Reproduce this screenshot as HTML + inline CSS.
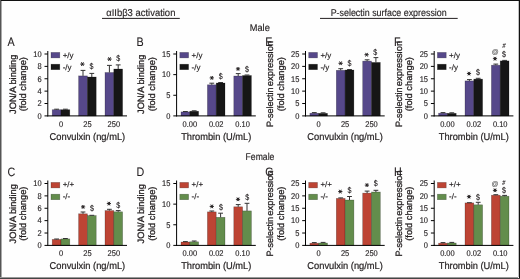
<!DOCTYPE html><html><head><meta charset="utf-8"><style>html,body{margin:0;padding:0;background:#fff;width:520px;height:279px;overflow:hidden;}svg{display:block;will-change:transform;}</style></head><body>
<svg width="520" height="279" viewBox="0 0 520 279" font-family='"Liberation Sans", sans-serif' fill="#231f20" stroke="#231f20" stroke-width="0.15" text-rendering="geometricPrecision">
<rect x="0.00" y="0.00" width="520.00" height="279.00" fill="#fefefe" stroke="none"/>
<text x="106.20" y="15.60" font-size="9.9" text-anchor="start" textLength="69.2" lengthAdjust="spacingAndGlyphs" >&#945;IIb&#946;3 activation</text>
<line x1="102.00" y1="18.40" x2="179.80" y2="18.40" stroke="#231f20" stroke-width="1"/>
<text x="330.70" y="15.50" font-size="9.9" text-anchor="start" textLength="116.0" lengthAdjust="spacingAndGlyphs" >P-selectin surface expression</text>
<line x1="320.00" y1="18.40" x2="457.70" y2="18.40" stroke="#231f20" stroke-width="1"/>
<text x="259.80" y="30.60" font-size="9.9" text-anchor="middle" textLength="20.0" lengthAdjust="spacingAndGlyphs" >Male</text>
<text x="260.00" y="159.80" font-size="9.9" text-anchor="middle" textLength="28.8" lengthAdjust="spacingAndGlyphs" >Female</text>
<g>
<text transform="translate(7.60,46.00) scale(0.88,1)" font-size="12.2" stroke-width="0.1">A</text>
<text transform="translate(15.50,84.30) rotate(-90)" font-size="9.2" text-anchor="middle" textLength="59.4" lengthAdjust="spacingAndGlyphs" stroke-width="0.3">JON/A binding</text>
<text transform="translate(25.80,84.20) rotate(-90)" font-size="9.2" text-anchor="middle" textLength="54.2" lengthAdjust="spacingAndGlyphs" stroke-width="0.3">(fold change)</text>
<text transform="translate(41.60,118.70) scale(0.9,1)" font-size="8.3" text-anchor="end" >0</text>
<text transform="translate(41.60,106.32) scale(0.9,1)" font-size="8.3" text-anchor="end" >2</text>
<text transform="translate(41.60,93.94) scale(0.9,1)" font-size="8.3" text-anchor="end" >4</text>
<text transform="translate(41.60,81.56) scale(0.9,1)" font-size="8.3" text-anchor="end" >6</text>
<text transform="translate(41.60,69.18) scale(0.9,1)" font-size="8.3" text-anchor="end" >8</text>
<text transform="translate(41.60,56.80) scale(0.9,1)" font-size="8.3" text-anchor="end" >10</text>
<rect x="51.00" y="52.40" width="8.80" height="5.50" fill="#56488a" stroke="#000" stroke-opacity="0.35" stroke-width="0.6"/>
<rect x="51.00" y="64.20" width="8.80" height="5.50" fill="#161616" stroke="#000" stroke-opacity="0.35" stroke-width="0.6"/>
<text x="62.70" y="57.80" font-size="8.0" text-anchor="start" >+/y</text>
<text x="62.70" y="69.60" font-size="8.0" text-anchor="start" >-/y</text>
<rect x="52.20" y="109.70" width="8.80" height="6.20" fill="#56488a" stroke="#000" stroke-opacity="0.35" stroke-width="0.6"/>
<rect x="61.00" y="109.70" width="8.80" height="6.20" fill="#161616" stroke="#000" stroke-opacity="0.35" stroke-width="0.6"/>
<line x1="56.60" y1="109.20" x2="56.60" y2="109.70" stroke="#333" stroke-width="1"/>
<line x1="54.20" y1="109.20" x2="59.00" y2="109.20" stroke="#333" stroke-width="1"/>
<line x1="65.40" y1="109.20" x2="65.40" y2="109.70" stroke="#333" stroke-width="1"/>
<line x1="63.00" y1="109.20" x2="67.80" y2="109.20" stroke="#333" stroke-width="1"/>
<text transform="translate(61.00,126.90) scale(0.9,1)" font-size="8.3" text-anchor="middle" >0</text>
<rect x="78.60" y="75.90" width="8.80" height="40.00" fill="#56488a" stroke="#000" stroke-opacity="0.35" stroke-width="0.6"/>
<rect x="87.40" y="77.00" width="8.80" height="38.90" fill="#161616" stroke="#000" stroke-opacity="0.35" stroke-width="0.6"/>
<line x1="83.00" y1="70.40" x2="83.00" y2="75.90" stroke="#333" stroke-width="1"/>
<line x1="80.60" y1="70.40" x2="85.40" y2="70.40" stroke="#333" stroke-width="1"/>
<line x1="91.80" y1="73.40" x2="91.80" y2="77.00" stroke="#333" stroke-width="1"/>
<line x1="89.40" y1="73.40" x2="94.20" y2="73.40" stroke="#333" stroke-width="1"/>
<text transform="translate(87.40,126.90) scale(0.9,1)" font-size="8.3" text-anchor="middle" >25</text>
<rect x="105.00" y="72.50" width="8.80" height="43.40" fill="#56488a" stroke="#000" stroke-opacity="0.35" stroke-width="0.6"/>
<rect x="113.80" y="69.00" width="8.80" height="46.90" fill="#161616" stroke="#000" stroke-opacity="0.35" stroke-width="0.6"/>
<line x1="109.40" y1="65.40" x2="109.40" y2="72.50" stroke="#333" stroke-width="1"/>
<line x1="107.00" y1="65.40" x2="111.80" y2="65.40" stroke="#333" stroke-width="1"/>
<line x1="118.20" y1="64.90" x2="118.20" y2="69.00" stroke="#333" stroke-width="1"/>
<line x1="115.80" y1="64.90" x2="120.60" y2="64.90" stroke="#333" stroke-width="1"/>
<text transform="translate(113.80,126.90) scale(0.9,1)" font-size="8.3" text-anchor="middle" >250</text>
<line x1="44.50" y1="115.90" x2="47.80" y2="115.90" stroke="#000" stroke-width="1"/>
<line x1="44.50" y1="103.52" x2="47.80" y2="103.52" stroke="#000" stroke-width="1"/>
<line x1="44.50" y1="91.14" x2="47.80" y2="91.14" stroke="#000" stroke-width="1"/>
<line x1="44.50" y1="78.76" x2="47.80" y2="78.76" stroke="#000" stroke-width="1"/>
<line x1="44.50" y1="66.38" x2="47.80" y2="66.38" stroke="#000" stroke-width="1"/>
<line x1="44.50" y1="54.00" x2="47.80" y2="54.00" stroke="#000" stroke-width="1"/>
<line x1="47.80" y1="51.00" x2="47.80" y2="116.40" stroke="#000" stroke-width="1"/>
<line x1="47.30" y1="115.90" x2="127.00" y2="115.90" stroke="#000" stroke-width="1"/>
<path d="M80.30,64.10h4.20M81.35,62.28l2.10,3.64M83.45,62.28l-2.10,3.64" stroke="#231f20" stroke-width="1.0" fill="none"/>
<text transform="translate(91.40,69.42) scale(0.85,1)" font-size="8.4" text-anchor="middle" stroke-width="0.12">$</text>
<path d="M107.40,59.10h4.20M108.45,57.28l2.10,3.64M110.55,57.28l-2.10,3.64" stroke="#231f20" stroke-width="1.0" fill="none"/>
<text transform="translate(118.30,60.92) scale(0.85,1)" font-size="8.4" text-anchor="middle" stroke-width="0.12">$</text>
<text x="87.40" y="139.60" font-size="9.9" text-anchor="middle" textLength="75.6" lengthAdjust="spacingAndGlyphs" stroke-width="0.22">Convulxin (ng/mL)</text>
</g>
<g>
<text transform="translate(136.40,46.00) scale(0.88,1)" font-size="12.2" stroke-width="0.1">B</text>
<text transform="translate(144.30,84.30) rotate(-90)" font-size="9.2" text-anchor="middle" textLength="59.4" lengthAdjust="spacingAndGlyphs" stroke-width="0.3">JON/A binding</text>
<text transform="translate(154.60,84.20) rotate(-90)" font-size="9.2" text-anchor="middle" textLength="54.2" lengthAdjust="spacingAndGlyphs" stroke-width="0.3">(fold change)</text>
<text transform="translate(170.40,118.70) scale(0.9,1)" font-size="8.3" text-anchor="end" >0</text>
<text transform="translate(170.40,98.07) scale(0.9,1)" font-size="8.3" text-anchor="end" >5</text>
<text transform="translate(170.40,77.43) scale(0.9,1)" font-size="8.3" text-anchor="end" >10</text>
<text transform="translate(170.40,56.80) scale(0.9,1)" font-size="8.3" text-anchor="end" >15</text>
<rect x="179.80" y="52.40" width="8.80" height="5.50" fill="#56488a" stroke="#000" stroke-opacity="0.35" stroke-width="0.6"/>
<rect x="179.80" y="64.20" width="8.80" height="5.50" fill="#161616" stroke="#000" stroke-opacity="0.35" stroke-width="0.6"/>
<text x="191.50" y="57.80" font-size="8.0" text-anchor="start" >+/y</text>
<text x="191.50" y="69.60" font-size="8.0" text-anchor="start" >-/y</text>
<rect x="181.00" y="111.90" width="8.80" height="4.00" fill="#56488a" stroke="#000" stroke-opacity="0.35" stroke-width="0.6"/>
<rect x="189.80" y="111.20" width="8.80" height="4.70" fill="#161616" stroke="#000" stroke-opacity="0.35" stroke-width="0.6"/>
<line x1="185.40" y1="111.50" x2="185.40" y2="111.90" stroke="#333" stroke-width="1"/>
<line x1="183.00" y1="111.50" x2="187.80" y2="111.50" stroke="#333" stroke-width="1"/>
<line x1="194.20" y1="110.80" x2="194.20" y2="111.20" stroke="#333" stroke-width="1"/>
<line x1="191.80" y1="110.80" x2="196.60" y2="110.80" stroke="#333" stroke-width="1"/>
<text transform="translate(189.80,126.90) scale(0.9,1)" font-size="8.3" text-anchor="middle" >0.00</text>
<rect x="207.40" y="84.80" width="8.80" height="31.10" fill="#56488a" stroke="#000" stroke-opacity="0.35" stroke-width="0.6"/>
<rect x="216.20" y="83.00" width="8.80" height="32.90" fill="#161616" stroke="#000" stroke-opacity="0.35" stroke-width="0.6"/>
<line x1="211.80" y1="83.20" x2="211.80" y2="84.80" stroke="#333" stroke-width="1"/>
<line x1="209.40" y1="83.20" x2="214.20" y2="83.20" stroke="#333" stroke-width="1"/>
<line x1="220.60" y1="82.50" x2="220.60" y2="83.00" stroke="#333" stroke-width="1"/>
<line x1="218.20" y1="82.50" x2="223.00" y2="82.50" stroke="#333" stroke-width="1"/>
<text transform="translate(216.20,126.90) scale(0.9,1)" font-size="8.3" text-anchor="middle" >0.02</text>
<rect x="233.80" y="76.00" width="8.80" height="39.90" fill="#56488a" stroke="#000" stroke-opacity="0.35" stroke-width="0.6"/>
<rect x="242.60" y="75.50" width="8.80" height="40.40" fill="#161616" stroke="#000" stroke-opacity="0.35" stroke-width="0.6"/>
<line x1="238.20" y1="73.60" x2="238.20" y2="76.00" stroke="#333" stroke-width="1"/>
<line x1="235.80" y1="73.60" x2="240.60" y2="73.60" stroke="#333" stroke-width="1"/>
<line x1="247.00" y1="75.00" x2="247.00" y2="75.50" stroke="#333" stroke-width="1"/>
<line x1="244.60" y1="75.00" x2="249.40" y2="75.00" stroke="#333" stroke-width="1"/>
<text transform="translate(242.60,126.90) scale(0.9,1)" font-size="8.3" text-anchor="middle" >0.10</text>
<line x1="173.30" y1="115.90" x2="176.60" y2="115.90" stroke="#000" stroke-width="1"/>
<line x1="173.30" y1="95.27" x2="176.60" y2="95.27" stroke="#000" stroke-width="1"/>
<line x1="173.30" y1="74.63" x2="176.60" y2="74.63" stroke="#000" stroke-width="1"/>
<line x1="173.30" y1="54.00" x2="176.60" y2="54.00" stroke="#000" stroke-width="1"/>
<line x1="176.60" y1="51.00" x2="176.60" y2="116.40" stroke="#000" stroke-width="1"/>
<line x1="176.10" y1="115.90" x2="255.80" y2="115.90" stroke="#000" stroke-width="1"/>
<path d="M209.70,77.90h4.20M210.75,76.08l2.10,3.64M212.85,76.08l-2.10,3.64" stroke="#231f20" stroke-width="1.0" fill="none"/>
<text transform="translate(220.80,79.42) scale(0.85,1)" font-size="8.4" text-anchor="middle" stroke-width="0.12">$</text>
<path d="M235.90,68.90h4.20M236.95,67.08l2.10,3.64M239.05,67.08l-2.10,3.64" stroke="#231f20" stroke-width="1.0" fill="none"/>
<text transform="translate(247.00,72.02) scale(0.85,1)" font-size="8.4" text-anchor="middle" stroke-width="0.12">$</text>
<text x="216.20" y="139.60" font-size="9.9" text-anchor="middle" textLength="70.1" lengthAdjust="spacingAndGlyphs" stroke-width="0.22">Thrombin (U/mL)</text>
</g>
<g>
<text transform="translate(265.30,46.00) scale(0.88,1)" font-size="12.2" stroke-width="0.1">E</text>
<text transform="translate(273.20,127.00) rotate(-90)" font-size="9.2" textLength="39.6" lengthAdjust="spacingAndGlyphs" stroke-width="0.3">P-selectin</text>
<text transform="translate(273.20,86.20) rotate(-90)" font-size="9.2" textLength="45.3" lengthAdjust="spacingAndGlyphs" stroke-width="0.3">expression</text>
<text transform="translate(283.50,84.20) rotate(-90)" font-size="9.2" text-anchor="middle" textLength="54.2" lengthAdjust="spacingAndGlyphs" stroke-width="0.3">(fold change)</text>
<text transform="translate(299.30,118.70) scale(0.9,1)" font-size="8.3" text-anchor="end" >0</text>
<text transform="translate(299.30,106.32) scale(0.9,1)" font-size="8.3" text-anchor="end" >5</text>
<text transform="translate(299.30,93.94) scale(0.9,1)" font-size="8.3" text-anchor="end" >10</text>
<text transform="translate(299.30,81.56) scale(0.9,1)" font-size="8.3" text-anchor="end" >15</text>
<text transform="translate(299.30,69.18) scale(0.9,1)" font-size="8.3" text-anchor="end" >20</text>
<text transform="translate(299.30,56.80) scale(0.9,1)" font-size="8.3" text-anchor="end" >25</text>
<rect x="308.70" y="52.40" width="8.80" height="5.50" fill="#56488a" stroke="#000" stroke-opacity="0.35" stroke-width="0.6"/>
<rect x="308.70" y="64.20" width="8.80" height="5.50" fill="#161616" stroke="#000" stroke-opacity="0.35" stroke-width="0.6"/>
<text x="320.40" y="57.80" font-size="8.0" text-anchor="start" >+/y</text>
<text x="320.40" y="69.60" font-size="8.0" text-anchor="start" >-/y</text>
<rect x="309.90" y="113.20" width="8.80" height="2.70" fill="#56488a" stroke="#000" stroke-opacity="0.35" stroke-width="0.6"/>
<rect x="318.70" y="113.30" width="8.80" height="2.60" fill="#161616" stroke="#000" stroke-opacity="0.35" stroke-width="0.6"/>
<line x1="314.30" y1="112.60" x2="314.30" y2="113.20" stroke="#333" stroke-width="1"/>
<line x1="311.90" y1="112.60" x2="316.70" y2="112.60" stroke="#333" stroke-width="1"/>
<line x1="323.10" y1="112.80" x2="323.10" y2="113.30" stroke="#333" stroke-width="1"/>
<line x1="320.70" y1="112.80" x2="325.50" y2="112.80" stroke="#333" stroke-width="1"/>
<text transform="translate(318.70,126.90) scale(0.9,1)" font-size="8.3" text-anchor="middle" >0</text>
<rect x="336.30" y="70.30" width="8.80" height="45.60" fill="#56488a" stroke="#000" stroke-opacity="0.35" stroke-width="0.6"/>
<rect x="345.10" y="70.00" width="8.80" height="45.90" fill="#161616" stroke="#000" stroke-opacity="0.35" stroke-width="0.6"/>
<line x1="340.70" y1="68.70" x2="340.70" y2="70.30" stroke="#333" stroke-width="1"/>
<line x1="338.30" y1="68.70" x2="343.10" y2="68.70" stroke="#333" stroke-width="1"/>
<line x1="349.50" y1="69.50" x2="349.50" y2="70.00" stroke="#333" stroke-width="1"/>
<line x1="347.10" y1="69.50" x2="351.90" y2="69.50" stroke="#333" stroke-width="1"/>
<text transform="translate(345.10,126.90) scale(0.9,1)" font-size="8.3" text-anchor="middle" >25</text>
<rect x="362.70" y="61.10" width="8.80" height="54.80" fill="#56488a" stroke="#000" stroke-opacity="0.35" stroke-width="0.6"/>
<rect x="371.50" y="62.40" width="8.80" height="53.50" fill="#161616" stroke="#000" stroke-opacity="0.35" stroke-width="0.6"/>
<line x1="367.10" y1="59.80" x2="367.10" y2="61.10" stroke="#333" stroke-width="1"/>
<line x1="364.70" y1="59.80" x2="369.50" y2="59.80" stroke="#333" stroke-width="1"/>
<line x1="375.90" y1="57.60" x2="375.90" y2="62.40" stroke="#333" stroke-width="1"/>
<line x1="373.50" y1="57.60" x2="378.30" y2="57.60" stroke="#333" stroke-width="1"/>
<text transform="translate(371.50,126.90) scale(0.9,1)" font-size="8.3" text-anchor="middle" >250</text>
<line x1="302.20" y1="115.90" x2="305.50" y2="115.90" stroke="#000" stroke-width="1"/>
<line x1="302.20" y1="103.52" x2="305.50" y2="103.52" stroke="#000" stroke-width="1"/>
<line x1="302.20" y1="91.14" x2="305.50" y2="91.14" stroke="#000" stroke-width="1"/>
<line x1="302.20" y1="78.76" x2="305.50" y2="78.76" stroke="#000" stroke-width="1"/>
<line x1="302.20" y1="66.38" x2="305.50" y2="66.38" stroke="#000" stroke-width="1"/>
<line x1="302.20" y1="54.00" x2="305.50" y2="54.00" stroke="#000" stroke-width="1"/>
<line x1="305.50" y1="51.00" x2="305.50" y2="116.40" stroke="#000" stroke-width="1"/>
<line x1="305.00" y1="115.90" x2="384.70" y2="115.90" stroke="#000" stroke-width="1"/>
<path d="M338.50,63.30h4.20M339.55,61.48l2.10,3.64M341.65,61.48l-2.10,3.64" stroke="#231f20" stroke-width="1.0" fill="none"/>
<text transform="translate(349.50,66.22) scale(0.85,1)" font-size="8.4" text-anchor="middle" stroke-width="0.12">$</text>
<path d="M364.50,54.70h4.20M365.55,52.88l2.10,3.64M367.65,52.88l-2.10,3.64" stroke="#231f20" stroke-width="1.0" fill="none"/>
<text transform="translate(375.30,55.42) scale(0.85,1)" font-size="8.4" text-anchor="middle" stroke-width="0.12">$</text>
<text x="345.10" y="139.60" font-size="9.9" text-anchor="middle" textLength="75.6" lengthAdjust="spacingAndGlyphs" stroke-width="0.22">Convulxin (ng/mL)</text>
</g>
<g>
<text transform="translate(394.00,46.00) scale(0.88,1)" font-size="12.2" stroke-width="0.1">F</text>
<text transform="translate(401.90,127.00) rotate(-90)" font-size="9.2" textLength="39.6" lengthAdjust="spacingAndGlyphs" stroke-width="0.3">P-selectin</text>
<text transform="translate(401.90,86.20) rotate(-90)" font-size="9.2" textLength="45.3" lengthAdjust="spacingAndGlyphs" stroke-width="0.3">expression</text>
<text transform="translate(412.20,84.20) rotate(-90)" font-size="9.2" text-anchor="middle" textLength="54.2" lengthAdjust="spacingAndGlyphs" stroke-width="0.3">(fold change)</text>
<text transform="translate(428.00,118.70) scale(0.9,1)" font-size="8.3" text-anchor="end" >0</text>
<text transform="translate(428.00,106.32) scale(0.9,1)" font-size="8.3" text-anchor="end" >5</text>
<text transform="translate(428.00,93.94) scale(0.9,1)" font-size="8.3" text-anchor="end" >10</text>
<text transform="translate(428.00,81.56) scale(0.9,1)" font-size="8.3" text-anchor="end" >15</text>
<text transform="translate(428.00,69.18) scale(0.9,1)" font-size="8.3" text-anchor="end" >20</text>
<text transform="translate(428.00,56.80) scale(0.9,1)" font-size="8.3" text-anchor="end" >25</text>
<rect x="437.40" y="52.40" width="8.80" height="5.50" fill="#56488a" stroke="#000" stroke-opacity="0.35" stroke-width="0.6"/>
<rect x="437.40" y="64.20" width="8.80" height="5.50" fill="#161616" stroke="#000" stroke-opacity="0.35" stroke-width="0.6"/>
<text x="449.10" y="57.80" font-size="8.0" text-anchor="start" >+/y</text>
<text x="449.10" y="69.60" font-size="8.0" text-anchor="start" >-/y</text>
<rect x="438.60" y="113.20" width="8.80" height="2.70" fill="#56488a" stroke="#000" stroke-opacity="0.35" stroke-width="0.6"/>
<rect x="447.40" y="113.30" width="8.80" height="2.60" fill="#161616" stroke="#000" stroke-opacity="0.35" stroke-width="0.6"/>
<line x1="443.00" y1="112.60" x2="443.00" y2="113.20" stroke="#333" stroke-width="1"/>
<line x1="440.60" y1="112.60" x2="445.40" y2="112.60" stroke="#333" stroke-width="1"/>
<line x1="451.80" y1="112.80" x2="451.80" y2="113.30" stroke="#333" stroke-width="1"/>
<line x1="449.40" y1="112.80" x2="454.20" y2="112.80" stroke="#333" stroke-width="1"/>
<text transform="translate(447.40,126.90) scale(0.9,1)" font-size="8.3" text-anchor="middle" >0.00</text>
<rect x="465.00" y="80.90" width="8.80" height="35.00" fill="#56488a" stroke="#000" stroke-opacity="0.35" stroke-width="0.6"/>
<rect x="473.80" y="79.10" width="8.80" height="36.80" fill="#161616" stroke="#000" stroke-opacity="0.35" stroke-width="0.6"/>
<line x1="469.40" y1="79.60" x2="469.40" y2="80.90" stroke="#333" stroke-width="1"/>
<line x1="467.00" y1="79.60" x2="471.80" y2="79.60" stroke="#333" stroke-width="1"/>
<line x1="478.20" y1="78.30" x2="478.20" y2="79.10" stroke="#333" stroke-width="1"/>
<line x1="475.80" y1="78.30" x2="480.60" y2="78.30" stroke="#333" stroke-width="1"/>
<text transform="translate(473.80,126.90) scale(0.9,1)" font-size="8.3" text-anchor="middle" >0.02</text>
<rect x="491.40" y="65.20" width="8.80" height="50.70" fill="#56488a" stroke="#000" stroke-opacity="0.35" stroke-width="0.6"/>
<rect x="500.20" y="60.90" width="8.80" height="55.00" fill="#161616" stroke="#000" stroke-opacity="0.35" stroke-width="0.6"/>
<line x1="495.80" y1="64.10" x2="495.80" y2="65.20" stroke="#333" stroke-width="1"/>
<line x1="493.40" y1="64.10" x2="498.20" y2="64.10" stroke="#333" stroke-width="1"/>
<line x1="504.60" y1="60.40" x2="504.60" y2="60.90" stroke="#333" stroke-width="1"/>
<line x1="502.20" y1="60.40" x2="507.00" y2="60.40" stroke="#333" stroke-width="1"/>
<text transform="translate(500.20,126.90) scale(0.9,1)" font-size="8.3" text-anchor="middle" >0.10</text>
<line x1="430.90" y1="115.90" x2="434.20" y2="115.90" stroke="#000" stroke-width="1"/>
<line x1="430.90" y1="103.52" x2="434.20" y2="103.52" stroke="#000" stroke-width="1"/>
<line x1="430.90" y1="91.14" x2="434.20" y2="91.14" stroke="#000" stroke-width="1"/>
<line x1="430.90" y1="78.76" x2="434.20" y2="78.76" stroke="#000" stroke-width="1"/>
<line x1="430.90" y1="66.38" x2="434.20" y2="66.38" stroke="#000" stroke-width="1"/>
<line x1="430.90" y1="54.00" x2="434.20" y2="54.00" stroke="#000" stroke-width="1"/>
<line x1="434.20" y1="51.00" x2="434.20" y2="116.40" stroke="#000" stroke-width="1"/>
<line x1="433.70" y1="115.90" x2="513.40" y2="115.90" stroke="#000" stroke-width="1"/>
<path d="M466.90,73.60h4.20M467.95,71.78l2.10,3.64M470.05,71.78l-2.10,3.64" stroke="#231f20" stroke-width="1.0" fill="none"/>
<text transform="translate(478.00,75.42) scale(0.85,1)" font-size="8.4" text-anchor="middle" stroke-width="0.12">$</text>
<path d="M492.90,58.70h4.20M493.95,56.88l2.10,3.64M496.05,56.88l-2.10,3.64" stroke="#231f20" stroke-width="1.0" fill="none"/>
<text x="495.20" y="54.06" font-size="6.8" text-anchor="middle" fill="#666" stroke="#666" stroke-width="0.15">@</text>
<text transform="translate(504.00,57.02) scale(0.85,1)" font-size="8.4" text-anchor="middle" stroke-width="0.12">$</text>
<text transform="translate(503.80,47.90) skewX(-8) scale(0.75,1)" font-size="7.0" text-anchor="middle">#</text>
<text x="473.80" y="139.60" font-size="9.9" text-anchor="middle" textLength="70.1" lengthAdjust="spacingAndGlyphs" stroke-width="0.22">Thrombin (U/mL)</text>
</g>
<g>
<text transform="translate(7.60,176.00) scale(0.88,1)" font-size="12.2" stroke-width="0.1">C</text>
<text transform="translate(15.50,213.80) rotate(-90)" font-size="9.2" text-anchor="middle" textLength="59.4" lengthAdjust="spacingAndGlyphs" stroke-width="0.3">JON/A binding</text>
<text transform="translate(25.80,213.70) rotate(-90)" font-size="9.2" text-anchor="middle" textLength="54.2" lengthAdjust="spacingAndGlyphs" stroke-width="0.3">(fold change)</text>
<text transform="translate(41.60,248.20) scale(0.9,1)" font-size="8.3" text-anchor="end" >0</text>
<text transform="translate(41.60,235.82) scale(0.9,1)" font-size="8.3" text-anchor="end" >2</text>
<text transform="translate(41.60,223.44) scale(0.9,1)" font-size="8.3" text-anchor="end" >4</text>
<text transform="translate(41.60,211.06) scale(0.9,1)" font-size="8.3" text-anchor="end" >6</text>
<text transform="translate(41.60,198.68) scale(0.9,1)" font-size="8.3" text-anchor="end" >8</text>
<text transform="translate(41.60,186.30) scale(0.9,1)" font-size="8.3" text-anchor="end" >10</text>
<rect x="51.00" y="182.40" width="8.80" height="5.50" fill="#bd4434" stroke="#000" stroke-opacity="0.35" stroke-width="0.6"/>
<rect x="51.00" y="194.20" width="8.80" height="5.50" fill="#638d4c" stroke="#000" stroke-opacity="0.35" stroke-width="0.6"/>
<text x="62.70" y="187.30" font-size="8.0" text-anchor="start" >+/+</text>
<text x="62.70" y="198.60" font-size="8.0" text-anchor="start" >-/-</text>
<rect x="52.20" y="239.40" width="8.80" height="6.00" fill="#bd4434" stroke="#000" stroke-opacity="0.35" stroke-width="0.6"/>
<rect x="61.00" y="238.90" width="8.80" height="6.50" fill="#638d4c" stroke="#000" stroke-opacity="0.35" stroke-width="0.6"/>
<line x1="56.60" y1="239.00" x2="56.60" y2="239.40" stroke="#333" stroke-width="1"/>
<line x1="54.20" y1="239.00" x2="59.00" y2="239.00" stroke="#333" stroke-width="1"/>
<line x1="65.40" y1="238.50" x2="65.40" y2="238.90" stroke="#333" stroke-width="1"/>
<line x1="63.00" y1="238.50" x2="67.80" y2="238.50" stroke="#333" stroke-width="1"/>
<text transform="translate(61.00,256.40) scale(0.9,1)" font-size="8.3" text-anchor="middle" >0</text>
<rect x="78.60" y="213.80" width="8.80" height="31.60" fill="#bd4434" stroke="#000" stroke-opacity="0.35" stroke-width="0.6"/>
<rect x="87.40" y="215.60" width="8.80" height="29.80" fill="#638d4c" stroke="#000" stroke-opacity="0.35" stroke-width="0.6"/>
<line x1="83.00" y1="212.00" x2="83.00" y2="213.80" stroke="#333" stroke-width="1"/>
<line x1="80.60" y1="212.00" x2="85.40" y2="212.00" stroke="#333" stroke-width="1"/>
<line x1="89.40" y1="215.30" x2="94.20" y2="215.30" stroke="#333" stroke-width="1"/>
<text transform="translate(87.40,256.40) scale(0.9,1)" font-size="8.3" text-anchor="middle" >25</text>
<rect x="105.00" y="210.60" width="8.80" height="34.80" fill="#bd4434" stroke="#000" stroke-opacity="0.35" stroke-width="0.6"/>
<rect x="113.80" y="211.80" width="8.80" height="33.60" fill="#638d4c" stroke="#000" stroke-opacity="0.35" stroke-width="0.6"/>
<line x1="109.40" y1="209.30" x2="109.40" y2="210.60" stroke="#333" stroke-width="1"/>
<line x1="107.00" y1="209.30" x2="111.80" y2="209.30" stroke="#333" stroke-width="1"/>
<line x1="118.20" y1="210.60" x2="118.20" y2="211.80" stroke="#333" stroke-width="1"/>
<line x1="115.80" y1="210.60" x2="120.60" y2="210.60" stroke="#333" stroke-width="1"/>
<text transform="translate(113.80,256.40) scale(0.9,1)" font-size="8.3" text-anchor="middle" >250</text>
<line x1="44.50" y1="245.40" x2="47.80" y2="245.40" stroke="#000" stroke-width="1"/>
<line x1="44.50" y1="233.02" x2="47.80" y2="233.02" stroke="#000" stroke-width="1"/>
<line x1="44.50" y1="220.64" x2="47.80" y2="220.64" stroke="#000" stroke-width="1"/>
<line x1="44.50" y1="208.26" x2="47.80" y2="208.26" stroke="#000" stroke-width="1"/>
<line x1="44.50" y1="195.88" x2="47.80" y2="195.88" stroke="#000" stroke-width="1"/>
<line x1="44.50" y1="183.50" x2="47.80" y2="183.50" stroke="#000" stroke-width="1"/>
<line x1="47.80" y1="180.50" x2="47.80" y2="245.90" stroke="#000" stroke-width="1"/>
<line x1="47.30" y1="245.40" x2="127.00" y2="245.40" stroke="#000" stroke-width="1"/>
<path d="M81.00,206.90h4.20M82.05,205.08l2.10,3.64M84.15,205.08l-2.10,3.64" stroke="#231f20" stroke-width="1.0" fill="none"/>
<text transform="translate(91.90,211.42) scale(0.85,1)" font-size="8.4" text-anchor="middle" stroke-width="0.12">$</text>
<path d="M106.80,203.60h4.20M107.85,201.78l2.10,3.64M109.95,201.78l-2.10,3.64" stroke="#231f20" stroke-width="1.0" fill="none"/>
<text transform="translate(118.20,208.22) scale(0.85,1)" font-size="8.4" text-anchor="middle" stroke-width="0.12">$</text>
<text x="87.40" y="269.10" font-size="9.9" text-anchor="middle" textLength="75.6" lengthAdjust="spacingAndGlyphs" stroke-width="0.22">Convulxin (ng/mL)</text>
</g>
<g>
<text transform="translate(136.40,176.00) scale(0.88,1)" font-size="12.2" stroke-width="0.1">D</text>
<text transform="translate(144.30,213.80) rotate(-90)" font-size="9.2" text-anchor="middle" textLength="59.4" lengthAdjust="spacingAndGlyphs" stroke-width="0.3">JON/A binding</text>
<text transform="translate(154.60,213.70) rotate(-90)" font-size="9.2" text-anchor="middle" textLength="54.2" lengthAdjust="spacingAndGlyphs" stroke-width="0.3">(fold change)</text>
<text transform="translate(170.40,248.20) scale(0.9,1)" font-size="8.3" text-anchor="end" >0</text>
<text transform="translate(170.40,227.57) scale(0.9,1)" font-size="8.3" text-anchor="end" >5</text>
<text transform="translate(170.40,206.93) scale(0.9,1)" font-size="8.3" text-anchor="end" >10</text>
<text transform="translate(170.40,186.30) scale(0.9,1)" font-size="8.3" text-anchor="end" >15</text>
<rect x="179.80" y="182.40" width="8.80" height="5.50" fill="#bd4434" stroke="#000" stroke-opacity="0.35" stroke-width="0.6"/>
<rect x="179.80" y="194.20" width="8.80" height="5.50" fill="#638d4c" stroke="#000" stroke-opacity="0.35" stroke-width="0.6"/>
<text x="191.50" y="187.30" font-size="8.0" text-anchor="start" >+/+</text>
<text x="191.50" y="198.60" font-size="8.0" text-anchor="start" >-/-</text>
<rect x="181.00" y="242.00" width="8.80" height="3.40" fill="#bd4434" stroke="#000" stroke-opacity="0.35" stroke-width="0.6"/>
<rect x="189.80" y="241.80" width="8.80" height="3.60" fill="#638d4c" stroke="#000" stroke-opacity="0.35" stroke-width="0.6"/>
<line x1="185.40" y1="241.60" x2="185.40" y2="242.00" stroke="#333" stroke-width="1"/>
<line x1="183.00" y1="241.60" x2="187.80" y2="241.60" stroke="#333" stroke-width="1"/>
<line x1="194.20" y1="241.00" x2="194.20" y2="241.80" stroke="#333" stroke-width="1"/>
<line x1="191.80" y1="241.00" x2="196.60" y2="241.00" stroke="#333" stroke-width="1"/>
<text transform="translate(189.80,256.40) scale(0.9,1)" font-size="8.3" text-anchor="middle" >0.00</text>
<rect x="207.40" y="211.90" width="8.80" height="33.50" fill="#bd4434" stroke="#000" stroke-opacity="0.35" stroke-width="0.6"/>
<rect x="216.20" y="217.30" width="8.80" height="28.10" fill="#638d4c" stroke="#000" stroke-opacity="0.35" stroke-width="0.6"/>
<line x1="211.80" y1="211.00" x2="211.80" y2="211.90" stroke="#333" stroke-width="1"/>
<line x1="209.40" y1="211.00" x2="214.20" y2="211.00" stroke="#333" stroke-width="1"/>
<line x1="220.60" y1="213.20" x2="220.60" y2="217.30" stroke="#333" stroke-width="1"/>
<line x1="218.20" y1="213.20" x2="223.00" y2="213.20" stroke="#333" stroke-width="1"/>
<text transform="translate(216.20,256.40) scale(0.9,1)" font-size="8.3" text-anchor="middle" >0.02</text>
<rect x="233.80" y="206.80" width="8.80" height="38.60" fill="#bd4434" stroke="#000" stroke-opacity="0.35" stroke-width="0.6"/>
<rect x="242.60" y="210.90" width="8.80" height="34.50" fill="#638d4c" stroke="#000" stroke-opacity="0.35" stroke-width="0.6"/>
<line x1="238.20" y1="204.60" x2="238.20" y2="206.80" stroke="#333" stroke-width="1"/>
<line x1="235.80" y1="204.60" x2="240.60" y2="204.60" stroke="#333" stroke-width="1"/>
<line x1="247.00" y1="203.30" x2="247.00" y2="210.90" stroke="#333" stroke-width="1"/>
<line x1="244.60" y1="203.30" x2="249.40" y2="203.30" stroke="#333" stroke-width="1"/>
<text transform="translate(242.60,256.40) scale(0.9,1)" font-size="8.3" text-anchor="middle" >0.10</text>
<line x1="173.30" y1="245.40" x2="176.60" y2="245.40" stroke="#000" stroke-width="1"/>
<line x1="173.30" y1="224.77" x2="176.60" y2="224.77" stroke="#000" stroke-width="1"/>
<line x1="173.30" y1="204.13" x2="176.60" y2="204.13" stroke="#000" stroke-width="1"/>
<line x1="173.30" y1="183.50" x2="176.60" y2="183.50" stroke="#000" stroke-width="1"/>
<line x1="176.60" y1="180.50" x2="176.60" y2="245.90" stroke="#000" stroke-width="1"/>
<line x1="176.10" y1="245.40" x2="255.80" y2="245.40" stroke="#000" stroke-width="1"/>
<path d="M209.70,206.40h4.20M210.75,204.58l2.10,3.64M212.85,204.58l-2.10,3.64" stroke="#231f20" stroke-width="1.0" fill="none"/>
<text transform="translate(220.90,209.82) scale(0.85,1)" font-size="8.4" text-anchor="middle" stroke-width="0.12">$</text>
<path d="M235.90,199.30h4.20M236.95,197.48l2.10,3.64M239.05,197.48l-2.10,3.64" stroke="#231f20" stroke-width="1.0" fill="none"/>
<text transform="translate(247.30,199.72) scale(0.85,1)" font-size="8.4" text-anchor="middle" stroke-width="0.12">$</text>
<text x="216.20" y="269.10" font-size="9.9" text-anchor="middle" textLength="70.1" lengthAdjust="spacingAndGlyphs" stroke-width="0.22">Thrombin (U/mL)</text>
</g>
<g>
<text transform="translate(265.30,176.00) scale(0.88,1)" font-size="12.2" stroke-width="0.1">G</text>
<text transform="translate(273.20,256.50) rotate(-90)" font-size="9.2" textLength="39.6" lengthAdjust="spacingAndGlyphs" stroke-width="0.3">P-selectin</text>
<text transform="translate(273.20,215.70) rotate(-90)" font-size="9.2" textLength="45.3" lengthAdjust="spacingAndGlyphs" stroke-width="0.3">expression</text>
<text transform="translate(283.50,213.70) rotate(-90)" font-size="9.2" text-anchor="middle" textLength="54.2" lengthAdjust="spacingAndGlyphs" stroke-width="0.3">(fold change)</text>
<text transform="translate(299.30,248.20) scale(0.9,1)" font-size="8.3" text-anchor="end" >0</text>
<text transform="translate(299.30,235.82) scale(0.9,1)" font-size="8.3" text-anchor="end" >5</text>
<text transform="translate(299.30,223.44) scale(0.9,1)" font-size="8.3" text-anchor="end" >10</text>
<text transform="translate(299.30,211.06) scale(0.9,1)" font-size="8.3" text-anchor="end" >15</text>
<text transform="translate(299.30,198.68) scale(0.9,1)" font-size="8.3" text-anchor="end" >20</text>
<text transform="translate(299.30,186.30) scale(0.9,1)" font-size="8.3" text-anchor="end" >25</text>
<rect x="308.70" y="182.40" width="8.80" height="5.50" fill="#bd4434" stroke="#000" stroke-opacity="0.35" stroke-width="0.6"/>
<rect x="308.70" y="194.20" width="8.80" height="5.50" fill="#638d4c" stroke="#000" stroke-opacity="0.35" stroke-width="0.6"/>
<text x="320.40" y="187.30" font-size="8.0" text-anchor="start" >+/+</text>
<text x="320.40" y="198.60" font-size="8.0" text-anchor="start" >-/-</text>
<rect x="309.90" y="243.20" width="8.80" height="2.20" fill="#bd4434" stroke="#000" stroke-opacity="0.35" stroke-width="0.6"/>
<rect x="318.70" y="243.00" width="8.80" height="2.40" fill="#638d4c" stroke="#000" stroke-opacity="0.35" stroke-width="0.6"/>
<line x1="314.30" y1="242.60" x2="314.30" y2="243.20" stroke="#333" stroke-width="1"/>
<line x1="311.90" y1="242.60" x2="316.70" y2="242.60" stroke="#333" stroke-width="1"/>
<line x1="323.10" y1="242.40" x2="323.10" y2="243.00" stroke="#333" stroke-width="1"/>
<line x1="320.70" y1="242.40" x2="325.50" y2="242.40" stroke="#333" stroke-width="1"/>
<text transform="translate(318.70,256.40) scale(0.9,1)" font-size="8.3" text-anchor="middle" >0</text>
<rect x="336.30" y="198.40" width="8.80" height="47.00" fill="#bd4434" stroke="#000" stroke-opacity="0.35" stroke-width="0.6"/>
<rect x="345.10" y="200.00" width="8.80" height="45.40" fill="#638d4c" stroke="#000" stroke-opacity="0.35" stroke-width="0.6"/>
<line x1="340.70" y1="197.90" x2="340.70" y2="198.40" stroke="#333" stroke-width="1"/>
<line x1="338.30" y1="197.90" x2="343.10" y2="197.90" stroke="#333" stroke-width="1"/>
<line x1="349.50" y1="196.50" x2="349.50" y2="200.00" stroke="#333" stroke-width="1"/>
<line x1="347.10" y1="196.50" x2="351.90" y2="196.50" stroke="#333" stroke-width="1"/>
<text transform="translate(345.10,256.40) scale(0.9,1)" font-size="8.3" text-anchor="middle" >25</text>
<rect x="362.70" y="193.10" width="8.80" height="52.30" fill="#bd4434" stroke="#000" stroke-opacity="0.35" stroke-width="0.6"/>
<rect x="371.50" y="192.00" width="8.80" height="53.40" fill="#638d4c" stroke="#000" stroke-opacity="0.35" stroke-width="0.6"/>
<line x1="367.10" y1="191.10" x2="367.10" y2="193.10" stroke="#333" stroke-width="1"/>
<line x1="364.70" y1="191.10" x2="369.50" y2="191.10" stroke="#333" stroke-width="1"/>
<line x1="375.90" y1="190.30" x2="375.90" y2="192.00" stroke="#333" stroke-width="1"/>
<line x1="373.50" y1="190.30" x2="378.30" y2="190.30" stroke="#333" stroke-width="1"/>
<text transform="translate(371.50,256.40) scale(0.9,1)" font-size="8.3" text-anchor="middle" >250</text>
<line x1="302.20" y1="245.40" x2="305.50" y2="245.40" stroke="#000" stroke-width="1"/>
<line x1="302.20" y1="233.02" x2="305.50" y2="233.02" stroke="#000" stroke-width="1"/>
<line x1="302.20" y1="220.64" x2="305.50" y2="220.64" stroke="#000" stroke-width="1"/>
<line x1="302.20" y1="208.26" x2="305.50" y2="208.26" stroke="#000" stroke-width="1"/>
<line x1="302.20" y1="195.88" x2="305.50" y2="195.88" stroke="#000" stroke-width="1"/>
<line x1="302.20" y1="183.50" x2="305.50" y2="183.50" stroke="#000" stroke-width="1"/>
<line x1="305.50" y1="180.50" x2="305.50" y2="245.90" stroke="#000" stroke-width="1"/>
<line x1="305.00" y1="245.40" x2="384.70" y2="245.40" stroke="#000" stroke-width="1"/>
<path d="M338.20,191.60h4.20M339.25,189.78l2.10,3.64M341.35,189.78l-2.10,3.64" stroke="#231f20" stroke-width="1.0" fill="none"/>
<text transform="translate(349.50,193.42) scale(0.85,1)" font-size="8.4" text-anchor="middle" stroke-width="0.12">$</text>
<path d="M364.80,185.10h4.20M365.85,183.28l2.10,3.64M367.95,183.28l-2.10,3.64" stroke="#231f20" stroke-width="1.0" fill="none"/>
<text transform="translate(375.80,186.42) scale(0.85,1)" font-size="8.4" text-anchor="middle" stroke-width="0.12">$</text>
<text x="345.10" y="269.10" font-size="9.9" text-anchor="middle" textLength="75.6" lengthAdjust="spacingAndGlyphs" stroke-width="0.22">Convulxin (ng/mL)</text>
</g>
<g>
<text transform="translate(394.00,176.00) scale(0.88,1)" font-size="12.2" stroke-width="0.1">H</text>
<text transform="translate(401.90,256.50) rotate(-90)" font-size="9.2" textLength="39.6" lengthAdjust="spacingAndGlyphs" stroke-width="0.3">P-selectin</text>
<text transform="translate(401.90,215.70) rotate(-90)" font-size="9.2" textLength="45.3" lengthAdjust="spacingAndGlyphs" stroke-width="0.3">expression</text>
<text transform="translate(412.20,213.70) rotate(-90)" font-size="9.2" text-anchor="middle" textLength="54.2" lengthAdjust="spacingAndGlyphs" stroke-width="0.3">(fold change)</text>
<text transform="translate(428.00,248.20) scale(0.9,1)" font-size="8.3" text-anchor="end" >0</text>
<text transform="translate(428.00,235.82) scale(0.9,1)" font-size="8.3" text-anchor="end" >5</text>
<text transform="translate(428.00,223.44) scale(0.9,1)" font-size="8.3" text-anchor="end" >10</text>
<text transform="translate(428.00,211.06) scale(0.9,1)" font-size="8.3" text-anchor="end" >15</text>
<text transform="translate(428.00,198.68) scale(0.9,1)" font-size="8.3" text-anchor="end" >20</text>
<text transform="translate(428.00,186.30) scale(0.9,1)" font-size="8.3" text-anchor="end" >25</text>
<rect x="437.40" y="182.40" width="8.80" height="5.50" fill="#bd4434" stroke="#000" stroke-opacity="0.35" stroke-width="0.6"/>
<rect x="437.40" y="194.20" width="8.80" height="5.50" fill="#638d4c" stroke="#000" stroke-opacity="0.35" stroke-width="0.6"/>
<text x="449.10" y="187.30" font-size="8.0" text-anchor="start" >+/+</text>
<text x="449.10" y="198.60" font-size="8.0" text-anchor="start" >-/-</text>
<rect x="438.60" y="243.20" width="8.80" height="2.20" fill="#bd4434" stroke="#000" stroke-opacity="0.35" stroke-width="0.6"/>
<rect x="447.40" y="243.00" width="8.80" height="2.40" fill="#638d4c" stroke="#000" stroke-opacity="0.35" stroke-width="0.6"/>
<line x1="443.00" y1="242.60" x2="443.00" y2="243.20" stroke="#333" stroke-width="1"/>
<line x1="440.60" y1="242.60" x2="445.40" y2="242.60" stroke="#333" stroke-width="1"/>
<line x1="451.80" y1="242.40" x2="451.80" y2="243.00" stroke="#333" stroke-width="1"/>
<line x1="449.40" y1="242.40" x2="454.20" y2="242.40" stroke="#333" stroke-width="1"/>
<text transform="translate(447.40,256.40) scale(0.9,1)" font-size="8.3" text-anchor="middle" >0.00</text>
<rect x="465.00" y="202.90" width="8.80" height="42.50" fill="#bd4434" stroke="#000" stroke-opacity="0.35" stroke-width="0.6"/>
<rect x="473.80" y="204.80" width="8.80" height="40.60" fill="#638d4c" stroke="#000" stroke-opacity="0.35" stroke-width="0.6"/>
<line x1="467.00" y1="202.70" x2="471.80" y2="202.70" stroke="#333" stroke-width="1"/>
<line x1="478.20" y1="202.30" x2="478.20" y2="204.80" stroke="#333" stroke-width="1"/>
<line x1="475.80" y1="202.30" x2="480.60" y2="202.30" stroke="#333" stroke-width="1"/>
<text transform="translate(473.80,256.40) scale(0.9,1)" font-size="8.3" text-anchor="middle" >0.02</text>
<rect x="491.40" y="195.20" width="8.80" height="50.20" fill="#bd4434" stroke="#000" stroke-opacity="0.35" stroke-width="0.6"/>
<rect x="500.20" y="196.20" width="8.80" height="49.20" fill="#638d4c" stroke="#000" stroke-opacity="0.35" stroke-width="0.6"/>
<line x1="495.80" y1="194.70" x2="495.80" y2="195.20" stroke="#333" stroke-width="1"/>
<line x1="493.40" y1="194.70" x2="498.20" y2="194.70" stroke="#333" stroke-width="1"/>
<line x1="504.60" y1="195.40" x2="504.60" y2="196.20" stroke="#333" stroke-width="1"/>
<line x1="502.20" y1="195.40" x2="507.00" y2="195.40" stroke="#333" stroke-width="1"/>
<text transform="translate(500.20,256.40) scale(0.9,1)" font-size="8.3" text-anchor="middle" >0.10</text>
<line x1="430.90" y1="245.40" x2="434.20" y2="245.40" stroke="#000" stroke-width="1"/>
<line x1="430.90" y1="233.02" x2="434.20" y2="233.02" stroke="#000" stroke-width="1"/>
<line x1="430.90" y1="220.64" x2="434.20" y2="220.64" stroke="#000" stroke-width="1"/>
<line x1="430.90" y1="208.26" x2="434.20" y2="208.26" stroke="#000" stroke-width="1"/>
<line x1="430.90" y1="195.88" x2="434.20" y2="195.88" stroke="#000" stroke-width="1"/>
<line x1="430.90" y1="183.50" x2="434.20" y2="183.50" stroke="#000" stroke-width="1"/>
<line x1="434.20" y1="180.50" x2="434.20" y2="245.90" stroke="#000" stroke-width="1"/>
<line x1="433.70" y1="245.40" x2="513.40" y2="245.40" stroke="#000" stroke-width="1"/>
<path d="M466.90,196.70h4.20M467.95,194.88l2.10,3.64M470.05,194.88l-2.10,3.64" stroke="#231f20" stroke-width="1.0" fill="none"/>
<text transform="translate(478.00,199.52) scale(0.85,1)" font-size="8.4" text-anchor="middle" stroke-width="0.12">$</text>
<path d="M492.90,190.30h4.20M493.95,188.48l2.10,3.64M496.05,188.48l-2.10,3.64" stroke="#231f20" stroke-width="1.0" fill="none"/>
<text x="494.90" y="186.06" font-size="6.8" text-anchor="middle" fill="#666" stroke="#666" stroke-width="0.15">@</text>
<text transform="translate(504.00,193.12) scale(0.85,1)" font-size="8.4" text-anchor="middle" stroke-width="0.12">$</text>
<text transform="translate(503.40,185.00) skewX(-8) scale(0.75,1)" font-size="7.0" text-anchor="middle">#</text>
<text x="473.80" y="269.10" font-size="9.9" text-anchor="middle" textLength="70.1" lengthAdjust="spacingAndGlyphs" stroke-width="0.22">Thrombin (U/mL)</text>
</g>
<rect x="0.00" y="0.00" width="520.00" height="1.00" fill="#111" stroke="none"/>
<rect x="0.00" y="0.00" width="1.00" height="279.00" fill="#555" stroke="none"/>
<rect x="1.00" y="1.00" width="1.00" height="278.00" fill="#aaa" stroke="none"/>
<rect x="519.00" y="0.00" width="1.00" height="279.00" fill="#111" stroke="none"/>
<rect x="518.00" y="1.00" width="1.00" height="276.00" fill="#c0c0c0" stroke="none"/>
<rect x="0.00" y="278.00" width="520.00" height="1.00" fill="#444" stroke="none"/>
<rect x="0.00" y="277.00" width="518.00" height="1.00" fill="#999" stroke="none"/>
</svg></body></html>
